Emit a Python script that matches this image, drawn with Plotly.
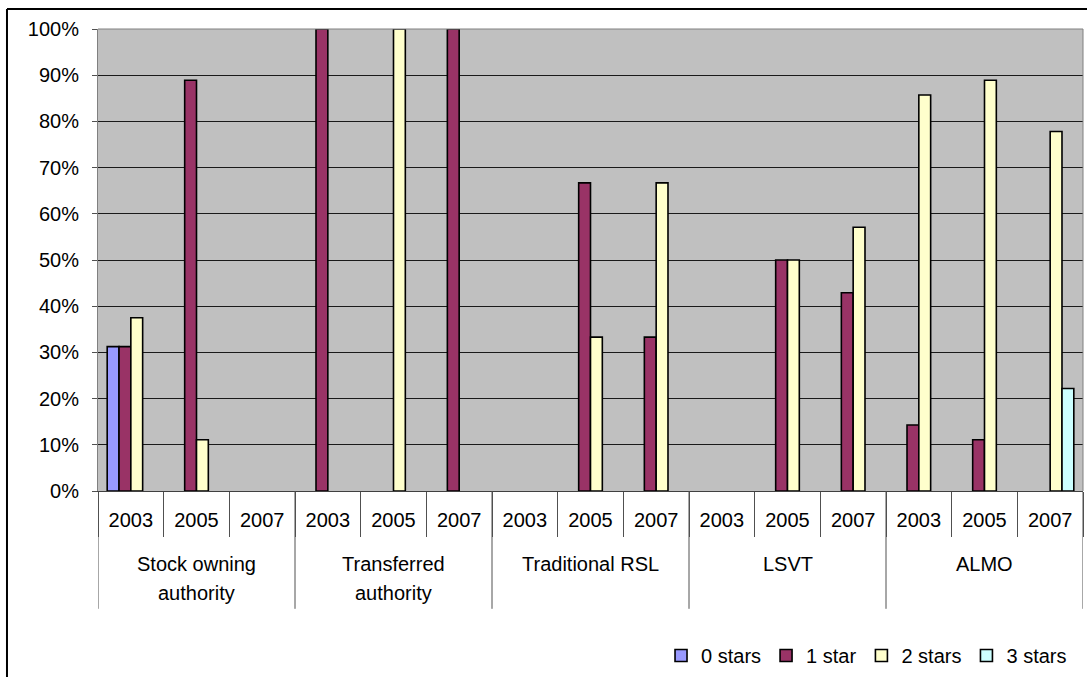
import plotly.graph_objects as go

org_types = ["Stock owning<br>authority", "Transferred<br>authority", "Traditional RSL", "LSVT", "ALMO"]
years = ["2003", "2005", "2007"]
series_names = ["0 stars", "1 star", "2 stars", "3 stars"]
series_colors = ["#9999FF", "#993366", "#FFFFCC", "#CCFFFF"]

# values in percent, order: org_type x year (15 categories); None = no bar
zero_stars  = [31.25, None, None,  None, None, None,  None, None, None,  None, None, None,  None, None, None]
one_star    = [31.25, 88.9, None,  100, None, 100,    None, 66.7, 33.3,  None, 50, 42.9,    14.3, 11.1, None]
two_stars   = [37.5, 11.1, None,   None, 100, None,   None, 33.3, 66.7,  None, 50, 57.1,    85.7, 88.9, 77.8]
three_stars = [None, None, None,   None, None, None,  None, None, None,  None, None, None,  None, None, 22.2]

cat_keys = [f"{o}|{y}" for o in org_types for y in years]
cat_years = [y for _ in org_types for y in years]

FONT = "Liberation Sans, Arial, sans-serif"
FS = 20
SEP = "#505050"

fig = go.Figure()
for name, color, vals in zip(series_names, series_colors,
                             [zero_stars, one_star, two_stars, three_stars]):
    fig.add_trace(go.Bar(
        x=cat_keys,
        y=[None if v is None else v / 100 for v in vals],
        name=name,
        marker=dict(color=color, line=dict(color="#000000", width=1.6)),
    ))

# group labels (one annotation per text line) and group dividers
annotations = []
shapes = []
line_y = [-0.158, -0.221]
for i, org in enumerate(org_types):
    for j, part in enumerate(org.split("<br>")):
        annotations.append(dict(
            x=cat_keys[3 * i + 1], xref="x", y=line_y[j], yref="paper",
            text=part, showarrow=False, xanchor="center", yanchor="middle",
            font=dict(family=FONT, size=FS, color="#000000"),
        ))
for k in range(len(org_types) + 1):
    shapes.append(dict(
        type="line", xref="x", yref="paper", x0=3 * k - 0.5, x1=3 * k - 0.5,
        y0=0, y1=-0.255, line=dict(color=SEP, width=1),
    ))

# outer frame and plot border
shapes += [
    dict(type="line", xref="paper", yref="paper", x0=-0.0924, x1=1.01, y0=1.0432, y1=1.0432,
         line=dict(color="#000000", width=2)),
    dict(type="line", xref="paper", yref="paper", x0=-0.0924, x1=-0.0924, y0=1.0432, y1=-0.5,
         line=dict(color="#000000", width=2)),
    dict(type="line", xref="paper", yref="paper", x0=0, x1=1, y0=1, y1=1,
         line=dict(color="#808080", width=1)),
    dict(type="line", xref="paper", yref="paper", x0=1, x1=1, y0=0, y1=1,
         line=dict(color="#808080", width=1)),
]

fig.update_layout(
    width=1087, height=677,
    margin=dict(l=98, r=4, t=29, b=185),
    paper_bgcolor="#FFFFFF",
    plot_bgcolor="#C0C0C0",
    barmode="group",
    bargap=0.28,
    bargroupgap=0,
    font=dict(family=FONT, size=FS, color="#000000"),
    showlegend=True,
    legend=dict(
        orientation="h", x=0.5716, xanchor="left", y=-0.353, yanchor="middle",
        font=dict(size=FS), bgcolor="rgba(0,0,0,0)",
        itemwidth=30, tracegroupgap=0,
    ),
    xaxis=dict(
        type="category",
        categoryorder="array", categoryarray=cat_keys,
        tickmode="array", tickvals=cat_keys, ticktext=cat_years,
        showline=True, linecolor="#404040", linewidth=1,
        ticks="outside", tickson="boundaries", ticklen=45, tickcolor=SEP,
        ticklabelstandoff=11,
        showgrid=False, zeroline=False,
        tickfont=dict(size=FS),
        range=[-0.5, 14.5],
    ),
    yaxis=dict(
        range=[0, 1], dtick=0.1, tickformat=".0%",
        showgrid=True, gridcolor="#1a1a1a", gridwidth=1,
        showline=True, linecolor="#808080", linewidth=1,
        ticks="outside", ticklen=5, tickcolor=SEP,
        ticklabelstandoff=9,
        tickfont=dict(size=FS),
        zeroline=False,
    ),
    annotations=annotations,
    shapes=shapes,
)

fig.write_html("out.html")
